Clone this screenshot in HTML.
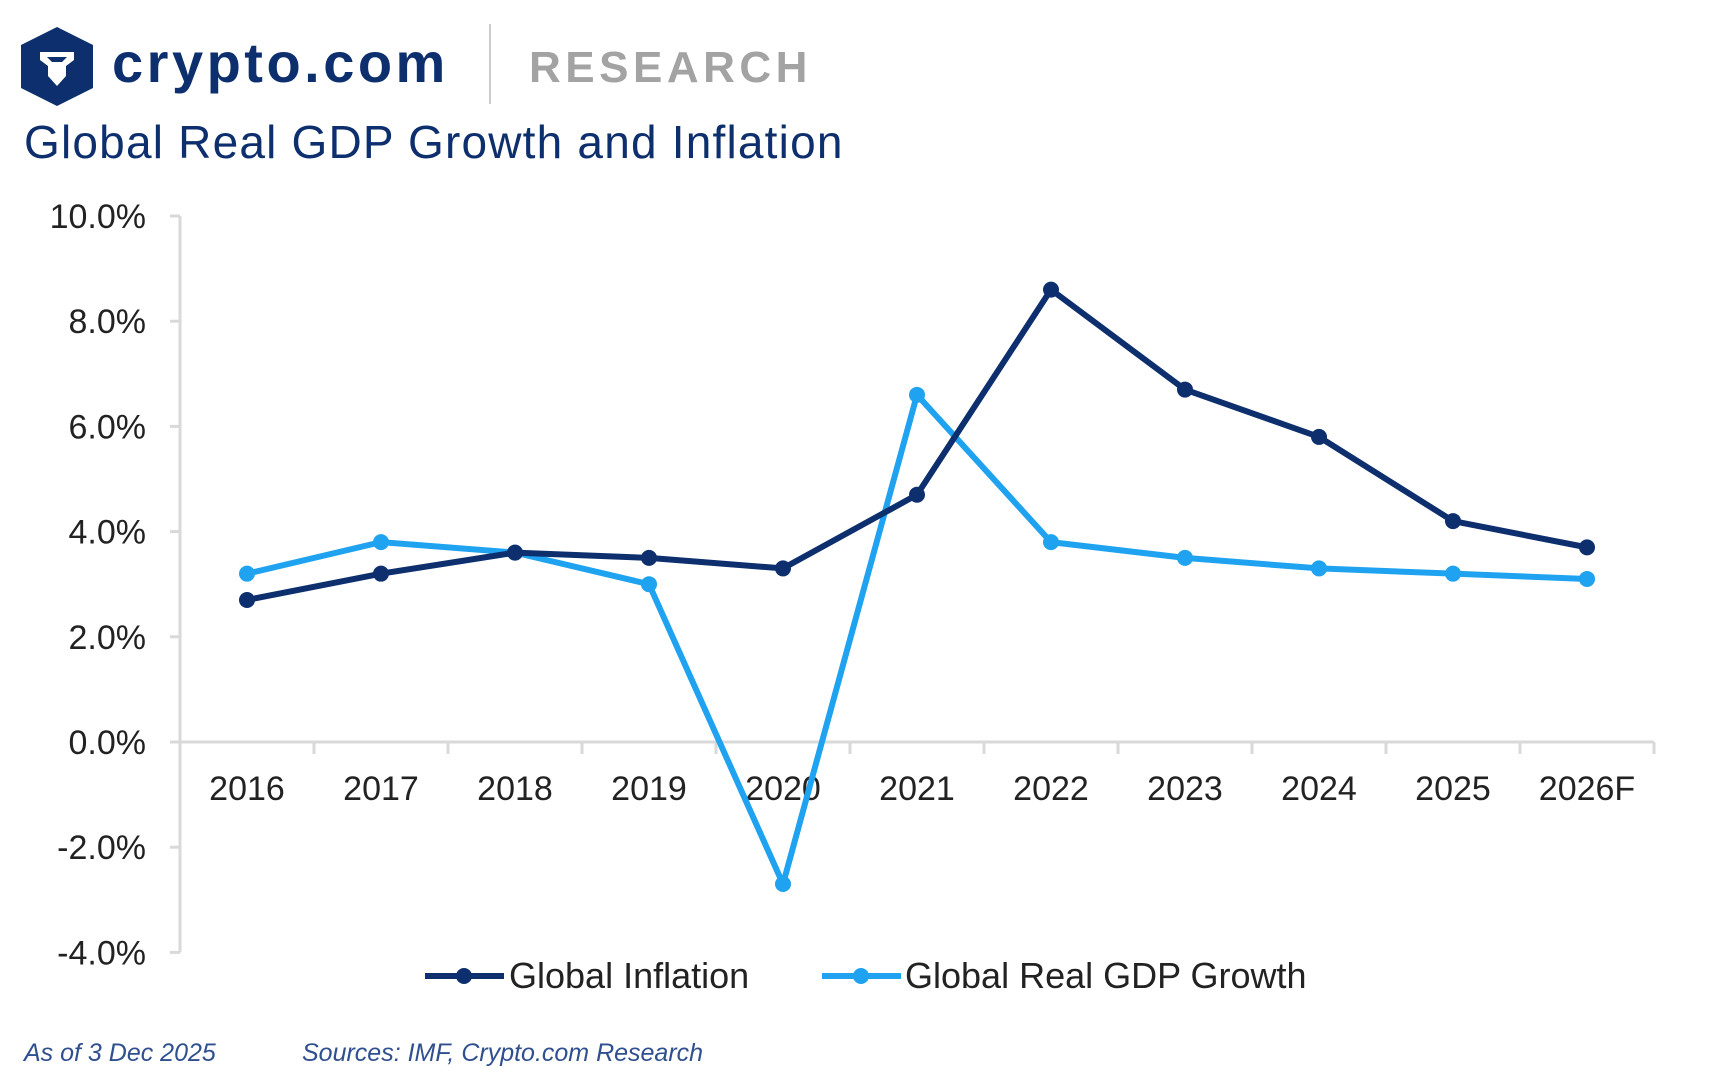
<!DOCTYPE html>
<html><head><meta charset="utf-8"><style>
body{margin:0;background:#fff;}
svg{display:block;font-family:"Liberation Sans",sans-serif;}
</style></head><body>
<svg width="1718" height="1090" viewBox="0 0 1718 1090">
<g>
<polygon points="57,27 93,45 93,88 57,106 21,88 21,45" fill="#0d2f6e"/>
<path d="M40,52 L74,52 L74,60 L66,66 L66,76 L57,86 L48,76 L48,66 L40,60 Z" fill="#fff"/>
<path d="M47,57 L67,57 L62,62 L52,62 Z" fill="#0d2f6e"/>
<text x="112" y="82" font-size="56" font-weight="bold" fill="#0d2f6e" letter-spacing="3.5">crypto.com</text>
<line x1="490" y1="24" x2="490" y2="104" stroke="#ccc" stroke-width="2"/>
<text x="529" y="82" font-size="44" font-weight="bold" fill="#a3a3a3" letter-spacing="4.5">RESEARCH</text>
</g>
<text x="24" y="158" font-size="46" fill="#0d2f6e" letter-spacing="1.2">Global Real GDP Growth and Inflation</text>
<g id="axes"></g>
<g id="series"></g>
<g>
<line x1="425" y1="976" x2="504" y2="976" stroke="#0d2f6e" stroke-width="6"/>
<circle cx="464" cy="976" r="8" fill="#0d2f6e"/>
<text x="509" y="988" font-size="36" fill="#222">Global Inflation</text>
<line x1="822" y1="976" x2="901" y2="976" stroke="#1fa3f0" stroke-width="6"/>
<circle cx="861" cy="976" r="8" fill="#1fa3f0"/>
<text x="905" y="988" font-size="36" fill="#222">Global Real GDP Growth</text>
</g>
<text x="24" y="1061" font-size="25" font-style="italic" fill="#2f4f8f">As of 3 Dec 2025</text>
<text x="302" y="1061" font-size="25" font-style="italic" fill="#2f4f8f">Sources: IMF, Crypto.com Research</text>
</svg>
<script>
const categories=["2016","2017","2018","2019","2020","2021","2022","2023","2024","2025","2026F"];
const inflation=[2.7,3.2,3.6,3.5,3.3,4.7,8.6,6.7,5.8,4.2,3.7];
const gdpGrowth=[3.2,3.8,3.6,3.0,-2.7,6.6,3.8,3.5,3.3,3.2,3.1];
const yTicks=[10,8,6,4,2,0,-2,-4];
const yTickLabels=["10.0%","8.0%","6.0%","4.0%","2.0%","0.0%","-2.0%","-4.0%"];
const NS="http://www.w3.org/2000/svg";
const X0=180,BW=134,Y0=742,PU=52.6;
function x(i){return X0+BW*(i+0.5);}
function y(v){return Y0-v*PU;}
function mk(t,a,p){const e=document.createElementNS(NS,t);for(const k in a)e.setAttribute(k,a[k]);p.appendChild(e);return e;}
const ax=document.getElementById('axes');
const ya=mk('line',{x1:X0,y1:y(10),x2:X0,y2:y(-4),stroke:'#d9d9d9','stroke-width':3},ax);


yTicks.forEach((v,i)=>{
 mk('line',{x1:X0-10,y1:y(v),x2:X0,y2:y(v),stroke:'#d9d9d9','stroke-width':3},ax);
 const t=mk('text',{x:X0-34,y:y(v)+12,'font-size':34,'text-anchor':'end',fill:'#222'},ax);
 t.textContent=yTickLabels[i];
 
 
});
const xa=mk('line',{x1:X0,y1:Y0,x2:X0+BW*categories.length,y2:Y0,stroke:'#d9d9d9','stroke-width':3},ax);


categories.forEach((c,i)=>{
 mk('line',{x1:X0+BW*(i+1),y1:Y0,x2:X0+BW*(i+1),y2:Y0+12,stroke:'#d9d9d9','stroke-width':3},ax);
 const t=mk('text',{x:x(i),y:Y0+58,'font-size':34,'text-anchor':'middle',fill:'#222'},ax);
 t.textContent=c;
 
 
});
const sg=document.getElementById('series');
function draw(vals,color,name){
 const pl=mk('polyline',{points:vals.map((v,i)=>x(i)+','+y(v)).join(' '),fill:'none',stroke:color,'stroke-width':6,'stroke-linejoin':'round'},sg);
 
 
 vals.forEach((v,i)=>{
  const c=mk('circle',{cx:x(i),cy:y(v),r:8,fill:color},sg);
  
  
 });
}
draw(gdpGrowth,'#1fa3f0','gdp-growth');
draw(inflation,'#0d2f6e','inflation');
</script>
</body></html>
